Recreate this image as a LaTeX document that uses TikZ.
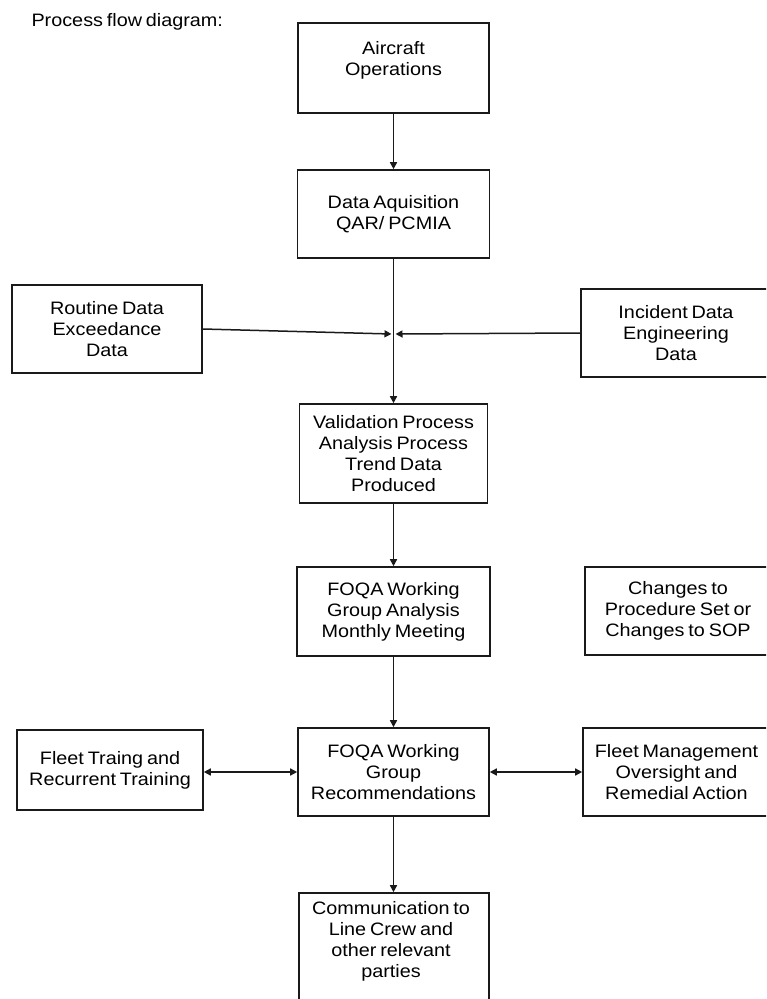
\documentclass[tikz,border=0pt]{standalone}
\usepackage{fontspec}
\setmainfont{Liberation Sans}[FakeStretch=1.1, WordSpace=0.7]
\usetikzlibrary{arrows.meta}
\definecolor{linec}{HTML}{1A1A1A}
\begin{document}
\begin{tikzpicture}[x=1pt, y=-1pt,
  box/.style 2 args={draw=linec, line width=1.6pt, inner sep=0pt,
    minimum width=#1, minimum height=#2},
  txt/.style={align=center, font=\fontsize{18}{21}\selectfont, text=black},
  flow/.style={draw=linec, line width=1.5pt, -{Triangle[length=7pt,width=7pt]}},
  both/.style={draw=linec, line width=1.5pt,
    {Triangle[length=7pt,width=7pt]}-{Triangle[length=7pt,width=7pt]}}]
\useasboundingbox (0,0) rectangle (766,999);
\clip (0,0) rectangle (766,999);
\fill[white] (0,0) rectangle (766,999);

\node[txt, anchor=base west] (title) at (28,26) {Process flow diagram:};

% main column
\node[box={191}{90}] (ops) at (393.5,68) {};
\node[txt] (opsT) at (393.5,60) {Aircraft\\Operations};
\node[box={192}{88}, txt] (acq) at (393.5,214) {Data Aquisition\\QAR/ PCMIA};
\node[box={188}{99}, txt] (valid) at (393.5,453.5) {Validation Process\\Analysis Process\\Trend Data\\Produced};
\node[box={193}{89}, txt] (anal) at (393.5,611.5) {FOQA Working\\Group Analysis\\Monthly Meeting};
\node[box={191}{88}, txt] (rec) at (393.5,772) {FOQA Working\\Group\\Recommendations};
\node[box={190}{112}] (comm) at (394,949) {};
\node[txt] (commT) at (391,941) {Communication to\\Line Crew and\\other relevant\\parties};

% side boxes
\node[box={190}{88}, txt] (routine) at (107,329) {Routine Data\\Exceedance\\Data};
\node[box={190}{88}, txt] (incident) at (676,333) {Incident Data\\Engineering\\Data};
\node[box={186}{88}, txt] (sop) at (678,611) {Changes to\\Procedure Set or\\Changes to SOP};
\node[box={186}{80}, txt] (train) at (110,770) {Fleet Traing and\\Recurrent Training};
\node[box={187}{88}, txt] (mgmt) at (676.5,772) {Fleet Management\\Oversight and\\Remedial Action};

% connectors
\coordinate (j) at (393.5,334);
\draw[flow] (ops.south) -- (ops.south |- acq.north);
\draw[flow] (acq.south) -- (acq.south |- valid.north);
\draw[flow] (routine.east) -- ([xshift=-2pt]j);
\draw[flow] (incident.west) -- ([xshift=2pt]j);
\draw[flow] (valid.south) -- (valid.south |- anal.north);
\draw[flow] (anal.south) -- (anal.south |- rec.north);
\draw[both] (rec.west) -- (rec.west -| train.east);
\draw[both] (rec.east) -- (rec.east -| mgmt.west);
\draw[flow] (rec.south) -- (rec.south |- comm.north);
\end{tikzpicture}
\end{document}
